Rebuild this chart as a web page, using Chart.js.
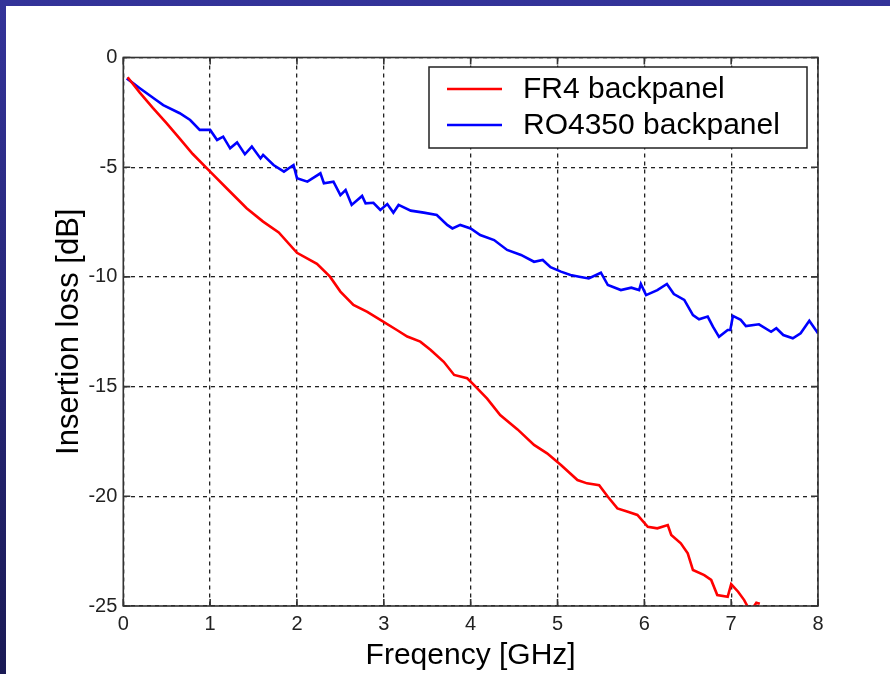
<!DOCTYPE html>
<html>
<head>
<meta charset="utf-8">
<script src="https://cdn.jsdelivr.net/npm/chart.js@4"></script>
<style>
  html, body { margin: 0; padding: 0; }
  body {
    width: 890px; height: 674px; overflow: hidden; position: relative;
    background: linear-gradient(to bottom, #333399, #1a1a55);
  }
  #panel { position: absolute; left: 6px; top: 6px; right: 0; bottom: 0; background: #fff; }
  #wrap { position: absolute; left: 0; top: 0; width: 890px; height: 674px; }
</style>
</head>
<body>
<div id="panel"></div>
<div id="wrap"><canvas id="myChart" width="890" height="674"></canvas></div>
<script>
'use strict';

// data
let seriesNames = ['FR4 backpanel', 'RO4350 backpanel'];
let fr4Freq = [0.05, 0.19, 0.34, 0.5, 0.65, 0.8, 1.0, 1.19, 1.42, 1.61, 1.79, 2.0, 2.23, 2.38, 2.5, 2.65, 2.81, 2.96, 3.15, 3.27, 3.42, 3.54, 3.69, 3.81, 3.96, 4.04, 4.19, 4.34, 4.54, 4.73, 4.88, 5.04, 5.23, 5.34, 5.48, 5.58, 5.69, 5.81, 5.92, 6.04, 6.15, 6.27, 6.31, 6.42, 6.5, 6.56, 6.69, 6.77, 6.84, 6.96, 7.0, 7.08, 7.15, 7.19, 7.23, 7.29, 7.33];
let fr4Loss = [-0.9, -1.6, -2.3, -3.0, -3.7, -4.4, -5.2, -5.96, -6.87, -7.48, -7.97, -8.9, -9.4, -9.99, -10.67, -11.28, -11.59, -11.96, -12.42, -12.72, -12.95, -13.33, -13.87, -14.47, -14.62, -14.93, -15.55, -16.3, -16.95, -17.66, -18.04, -18.57, -19.26, -19.41, -19.49, -20.02, -20.55, -20.7, -20.85, -21.39, -21.46, -21.31, -21.76, -22.14, -22.6, -23.36, -23.59, -23.81, -24.5, -24.58, -24.0, -24.35, -24.73, -25.03, -25.2, -24.85, -24.9];
let roFreq = [0.04, 0.19, 0.35, 0.46, 0.65, 0.77, 0.88, 1.0, 1.08, 1.15, 1.23, 1.31, 1.4, 1.48, 1.58, 1.61, 1.73, 1.85, 1.96, 2.0, 2.12, 2.27, 2.31, 2.42, 2.5, 2.56, 2.63, 2.75, 2.79, 2.88, 2.96, 3.04, 3.11, 3.17, 3.31, 3.46, 3.61, 3.73, 3.79, 3.88, 4.0, 4.11, 4.27, 4.42, 4.58, 4.73, 4.83, 4.92, 5.04, 5.15, 5.25, 5.36, 5.5, 5.58, 5.73, 5.85, 5.94, 5.96, 6.02, 6.15, 6.26, 6.34, 6.46, 6.56, 6.63, 6.73, 6.79, 6.86, 6.96, 6.99, 7.02, 7.11, 7.17, 7.32, 7.46, 7.52, 7.6, 7.71, 7.8, 7.9, 8.0];
let roLoss = [-0.95, -1.4, -1.86, -2.17, -2.54, -2.85, -3.3, -3.3, -3.76, -3.61, -4.14, -3.87, -4.41, -4.06, -4.6, -4.44, -4.9, -5.2, -4.9, -5.5, -5.66, -5.28, -5.73, -5.66, -6.27, -6.04, -6.72, -6.31, -6.65, -6.62, -6.95, -6.68, -7.07, -6.72, -6.98, -7.07, -7.18, -7.63, -7.79, -7.63, -7.79, -8.09, -8.32, -8.77, -9.0, -9.31, -9.23, -9.56, -9.76, -9.91, -9.99, -10.07, -9.81, -10.37, -10.6, -10.49, -10.6, -10.32, -10.83, -10.6, -10.32, -10.78, -11.05, -11.74, -11.93, -11.81, -12.27, -12.73, -12.42, -12.42, -11.78, -11.96, -12.24, -12.16, -12.5, -12.34, -12.65, -12.8, -12.57, -12.0, -12.57];
let xTickMin = 0, xTickMax = 8, xTickStep = 1;
let yTickMin = -25, yTickMax = 0, yTickStep = 5;

function toPoints(xs, ys) {
  let pts = [];
  for (let i = 0; i < xs.length; i++) {
    pts.push({ x: xs[i], y: ys[i] });
  }
  return pts;
}

const FONT = "'Liberation Sans', Arial, sans-serif";

// box round the plot, inward ticks, and the legend inside the plot
let matlabBox = {
  id: 'matlabBox',
  afterDatasetsDraw(chart) {
    let ctx = chart.ctx;
    let a = chart.chartArea;
    let xs = chart.scales.x;
    let ys = chart.scales.y;
    ctx.save();
    ctx.strokeStyle = '#333';
    ctx.lineWidth = 1.6;
    ctx.setLineDash([]);
    ctx.strokeRect(a.left, a.top, a.right - a.left, a.bottom - a.top);
    ctx.beginPath();
    xs.ticks.forEach(t => {
      let px = xs.getPixelForValue(t.value);
      ctx.moveTo(px, a.bottom); ctx.lineTo(px, a.bottom - 7);
      ctx.moveTo(px, a.top); ctx.lineTo(px, a.top + 7);
    });
    ys.ticks.forEach(t => {
      let py = ys.getPixelForValue(t.value);
      ctx.moveTo(a.left, py); ctx.lineTo(a.left + 7, py);
      ctx.moveTo(a.right, py); ctx.lineTo(a.right - 7, py);
    });
    ctx.stroke();

    // legend
    let lx = 429, ly = 67, lw = 378, lh = 81;
    ctx.fillStyle = '#fff';
    ctx.fillRect(lx, ly, lw, lh);
    ctx.strokeStyle = '#222';
    ctx.lineWidth = 1.5;
    ctx.strokeRect(lx, ly, lw, lh);
    ctx.font = '30px ' + FONT;
    ctx.textBaseline = 'middle';
    ctx.textAlign = 'left';
    chart.data.datasets.forEach((ds, i) => {
      let rowY = 89 + i * 36;
      ctx.strokeStyle = ds.borderColor;
      ctx.lineWidth = 2.5;
      ctx.beginPath();
      ctx.moveTo(447, rowY); ctx.lineTo(502, rowY);
      ctx.stroke();
      ctx.fillStyle = '#000';
      ctx.fillText(ds.label, 523, rowY + 1);
    });
    ctx.restore();
  }
};

let chartConfig = {
  type: 'line',
  data: {
    datasets: [{
      label: seriesNames[0],
      data: toPoints(fr4Freq, fr4Loss),
      borderColor: '#ff0000',
      borderWidth: 2.6,
      pointRadius: 0,
      tension: 0,
      fill: false
    },
    {
      label: seriesNames[1],
      data: toPoints(roFreq, roLoss),
      borderColor: '#0000ff',
      borderWidth: 2.6,
      pointRadius: 0,
      tension: 0,
      fill: false
    }]
  },
  options: {
    responsive: false,
    animation: false,
    layout: { padding: { top: 57.5, right: 72, left: 0, bottom: 0 } },
    plugins: {
      legend: { display: false },
      tooltip: { enabled: false }
    },
    scales: {
      x: {
        type: 'linear',
        min: xTickMin,
        max: xTickMax,
        ticks: {
          stepSize: xTickStep,
          padding: 6,
          color: '#222',
          font: { family: FONT, size: 20 }
        },
        grid: { color: '#222', lineWidth: 1.3, drawTicks: false },
        border: { display: false, dash: [4, 4] },
        title: {
          display: true,
          text: 'Freqency [GHz]',
          color: '#000',
          font: { family: FONT, size: 30 },
          padding: { top: 0, bottom: 0 }
        },
        afterFit(scale) { scale.height = 68; }
      },
      y: {
        type: 'linear',
        min: yTickMin,
        max: yTickMax,
        ticks: {
          stepSize: yTickStep,
          padding: 6,
          color: '#222',
          font: { family: FONT, size: 20 }
        },
        grid: { color: '#222', lineWidth: 1.3, drawTicks: false },
        border: { display: false, dash: [4, 4] },
        title: {
          display: true,
          text: 'Insertion loss [dB]',
          color: '#000',
          font: { family: FONT, size: 31 },
          padding: { top: 51, bottom: 51 }
        },
        afterFit(scale) { scale.width = 123.3; }
      }
    }
  },
  plugins: [matlabBox]
};

let ctx = document.getElementById('myChart').getContext('2d');
let myChart = new Chart(ctx, chartConfig); //eslint-disable-line
</script>
</body>
</html>
